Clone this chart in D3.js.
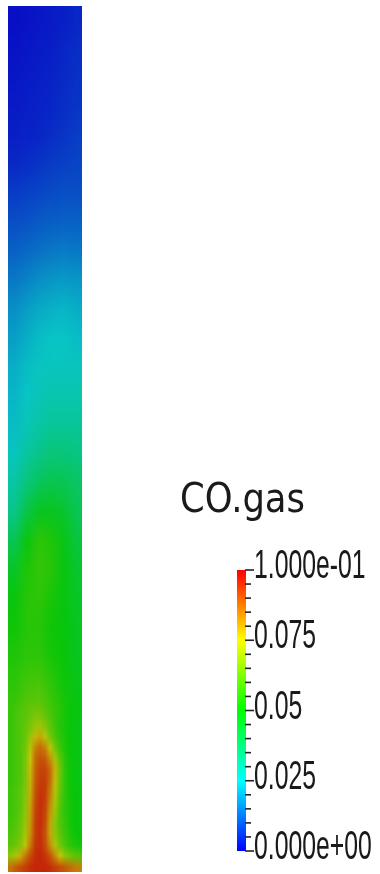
<!DOCTYPE html>
<html>
<head>
<meta charset="utf-8">
<script src="https://cdn.jsdelivr.net/npm/d3@7"></script>
<style>
  body { margin: 0; background: #fff; }
  #wrap { position: relative; width: 380px; height: 874px; }
  #wrap canvas, #wrap svg { position: absolute; left: 0; top: 0; }
</style>
</head>
<body>
<div id="wrap">
  <canvas id="field" width="380" height="874"></canvas>
  <svg id="chart" width="380" height="874"></svg>
</div>
<script>
// ---- data -------------------------------------------------------------
const fieldName = "CO.gas";
const valueRange = [0, 0.1];
const majorTicks = [0, 0.025, 0.05, 0.075, 0.1];
const tickLabels = ["0.000e+00", "0.025", "0.05", "0.075", "1.000e-01"];
const minorStep = 0.005;

// coarse sampling of the whole column, rows top -> bottom, 6 cells across
const coarseRows = [
  [0.0010, 0.0015, 0.0020, 0.0025, 0.0030, 0.0040],
  [0.0015, 0.0020, 0.0025, 0.0030, 0.0040, 0.0050],
  [0.0020, 0.0025, 0.0030, 0.0035, 0.0045, 0.0055],
  [0.0025, 0.0030, 0.0035, 0.0040, 0.0050, 0.0060],
  [0.0030, 0.0035, 0.0040, 0.0050, 0.0060, 0.0070],
  [0.0045, 0.0050, 0.0060, 0.0070, 0.0075, 0.0080],
  [0.0070, 0.0075, 0.0085, 0.0090, 0.0095, 0.0095],
  [0.0095, 0.0100, 0.0110, 0.0115, 0.0120, 0.0120],
  [0.0120, 0.0130, 0.0140, 0.0150, 0.0155, 0.0150],
  [0.0150, 0.0165, 0.0180, 0.0190, 0.0195, 0.0190],
  [0.0180, 0.0200, 0.0215, 0.0225, 0.0230, 0.0220],
  [0.0200, 0.0220, 0.0240, 0.0250, 0.0250, 0.0240],
  [0.0220, 0.0240, 0.0255, 0.0260, 0.0260, 0.0260],
  [0.0230, 0.0250, 0.0270, 0.0280, 0.0280, 0.0280],
  [0.0240, 0.0270, 0.0290, 0.0310, 0.0310, 0.0310],
  [0.0260, 0.0300, 0.0330, 0.0350, 0.0350, 0.0340],
  [0.0290, 0.0350, 0.0390, 0.0410, 0.0400, 0.0380],
  [0.0330, 0.0420, 0.0470, 0.0470, 0.0450, 0.0400],
  [0.0400, 0.0490, 0.0550, 0.0530, 0.0480, 0.0430],
  [0.0460, 0.0530, 0.0560, 0.0540, 0.0490, 0.0450],
  [0.0490, 0.0540, 0.0550, 0.0520, 0.0490, 0.0460],
  [0.0510, 0.0540, 0.0540, 0.0510, 0.0490, 0.0470],
  [0.0530, 0.0550, 0.0550, 0.0520, 0.0500, 0.0470],
  [0.0550, 0.0580, 0.0590, 0.0550, 0.0510, 0.0480],
  [0.0570, 0.0610, 0.0630, 0.0580, 0.0530, 0.0490],
  [0.0570, 0.0630, 0.0690, 0.0660, 0.0550, 0.0490],
  [0.0570, 0.0640, 0.0800, 0.0820, 0.0600, 0.0500],
  [0.0580, 0.0650, 0.0880, 0.0880, 0.0620, 0.0510],
  [0.0600, 0.0670, 0.0900, 0.0880, 0.0640, 0.0530],
  [0.0750, 0.0800, 0.0950, 0.0940, 0.0820, 0.0750]
];

// finer sampling of the inlet zone (height fraction 0 .. fineTop), 15 cells across
const fineTop = 0.2;
const fineRows = [
  [0.056, 0.058, 0.060, 0.061, 0.062, 0.063, 0.062, 0.060, 0.058, 0.056, 0.054, 0.052, 0.050, 0.049, 0.048],
  [0.056, 0.058, 0.060, 0.061, 0.063, 0.065, 0.065, 0.062, 0.059, 0.056, 0.054, 0.052, 0.050, 0.049, 0.048],
  [0.056, 0.058, 0.060, 0.062, 0.065, 0.069, 0.070, 0.066, 0.061, 0.057, 0.054, 0.052, 0.050, 0.049, 0.048],
  [0.056, 0.058, 0.060, 0.063, 0.069, 0.077, 0.079, 0.073, 0.065, 0.059, 0.055, 0.052, 0.050, 0.049, 0.048],
  [0.056, 0.058, 0.060, 0.064, 0.073, 0.084, 0.087, 0.084, 0.074, 0.064, 0.057, 0.053, 0.050, 0.049, 0.048],
  [0.056, 0.058, 0.060, 0.065, 0.075, 0.087, 0.090, 0.089, 0.082, 0.071, 0.061, 0.054, 0.051, 0.049, 0.048],
  [0.056, 0.058, 0.060, 0.065, 0.076, 0.088, 0.092, 0.092, 0.087, 0.077, 0.064, 0.055, 0.051, 0.049, 0.048],
  [0.056, 0.058, 0.060, 0.065, 0.077, 0.089, 0.093, 0.093, 0.087, 0.076, 0.063, 0.055, 0.051, 0.049, 0.048],
  [0.057, 0.059, 0.061, 0.066, 0.078, 0.090, 0.094, 0.093, 0.085, 0.073, 0.062, 0.055, 0.051, 0.050, 0.049],
  [0.057, 0.059, 0.061, 0.067, 0.079, 0.091, 0.095, 0.093, 0.083, 0.071, 0.061, 0.055, 0.052, 0.050, 0.049],
  [0.057, 0.059, 0.062, 0.068, 0.080, 0.092, 0.095, 0.092, 0.081, 0.069, 0.060, 0.055, 0.052, 0.050, 0.049],
  [0.058, 0.060, 0.063, 0.069, 0.081, 0.093, 0.095, 0.091, 0.079, 0.067, 0.060, 0.056, 0.052, 0.050, 0.049],
  [0.059, 0.061, 0.064, 0.071, 0.082, 0.093, 0.095, 0.090, 0.079, 0.068, 0.061, 0.057, 0.053, 0.051, 0.050],
  [0.061, 0.063, 0.067, 0.074, 0.085, 0.094, 0.095, 0.091, 0.082, 0.072, 0.064, 0.059, 0.055, 0.053, 0.052],
  [0.068, 0.072, 0.078, 0.085, 0.091, 0.095, 0.096, 0.094, 0.090, 0.083, 0.075, 0.068, 0.064, 0.061, 0.060],
  [0.086, 0.089, 0.091, 0.093, 0.095, 0.096, 0.096, 0.096, 0.095, 0.093, 0.091, 0.089, 0.087, 0.085, 0.084]
];

// ---- scales -----------------------------------------------------------
const x = d3.scaleLinear([0, 1], [8, 82]);      // across the column
const y = d3.scaleLinear([0, 1], [872, 6]);     // height fraction
const color = d3.scaleSequential(valueRange, d3.interpolateHslLong("blue", "red"));
const shade = 0.74, lift = 8;                   // surface looks a bit darker than the bar

// paint a grid of samples as a small image, then stretch it (bilinear) over its area
function gridImage(rows) {
  const nr = rows.length, nc = rows[0].length;
  const off = document.createElement("canvas");
  off.width = nc; off.height = nr;
  const octx = off.getContext("2d");
  const img = octx.createImageData(nc, nr);
  rows.forEach((row, i) => row.forEach((v, j) => {
    const c = d3.rgb(color(v));
    const k = (i * nc + j) * 4;
    img.data[k] = c.r * shade + lift;
    img.data[k + 1] = c.g * shade + lift;
    img.data[k + 2] = c.b * shade + lift;
    img.data[k + 3] = 255;
  }));
  octx.putImageData(img, 0, 0);
  return off;
}

const ctx = document.getElementById("field").getContext("2d");
ctx.imageSmoothingEnabled = true;
ctx.drawImage(gridImage(coarseRows), x(0), y(1), x(1) - x(0), y(0) - y(1));

// fine grid on a layer, faded in at its top edge so there is no seam
const layer = document.createElement("canvas");
layer.width = 380; layer.height = 874;
const lctx = layer.getContext("2d");
lctx.imageSmoothingEnabled = true;
lctx.drawImage(gridImage(fineRows), x(0), y(fineTop), x(1) - x(0), y(0) - y(fineTop));
const fade = lctx.createLinearGradient(0, y(fineTop), 0, y(fineTop) + 14);
fade.addColorStop(0, "rgba(0,0,0,0)");
fade.addColorStop(1, "rgba(0,0,0,1)");
lctx.globalCompositeOperation = "destination-in";
lctx.fillStyle = fade;
lctx.fillRect(0, 0, 380, 874);
ctx.drawImage(layer, 0, 0);

// ---- colour legend ----------------------------------------------------
const svg = d3.select("#chart");
const barX = 237, barW = 9;
const barY = d3.scaleLinear(valueRange, [851, 570]);

const grad = svg.append("defs").append("linearGradient")
  .attr("id", "bar").attr("x1", 0).attr("y1", 1).attr("x2", 0).attr("y2", 0);
grad.selectAll("stop")
  .data(d3.range(0, 21).map(i => i / 20))
  .enter().append("stop")
  .attr("offset", d => d)
  .attr("stop-color", d => color(valueRange[0] + d * (valueRange[1] - valueRange[0])));

svg.append("rect")
  .attr("x", barX).attr("y", barY(valueRange[1]))
  .attr("width", barW).attr("height", barY(valueRange[0]) - barY(valueRange[1]))
  .attr("fill", "url(#bar)");

const minor = d3.range(0, 20 + 1).map(i => i * minorStep);
svg.selectAll(".tick")
  .data(minor)
  .enter().append("line")
  .attr("class", "tick")
  .attr("x1", barX + barW - 1)
  .attr("x2", d => majorTicks.some(m => Math.abs(m - d) < 1e-9) ? barX + barW + 8 : barX + barW + 5)
  .attr("y1", d => barY(d)).attr("y2", d => barY(d))
  .attr("stroke", "#222").attr("stroke-width", 1.6);

svg.selectAll(".lab")
  .data(majorTicks)
  .enter().append("text")
  .attr("class", "lab")
  .attr("transform", d => "translate(254," + (barY(d) + 8) + ") scale(0.62,1)")
  .attr("font-family", "Liberation Sans, Arial, sans-serif")
  .attr("font-size", 40)
  .attr("fill", "#1a1a1a")
  .text((d, i) => tickLabels[i]);

svg.append("text")
  .attr("x", 180).attr("y", 512)
  .attr("font-family", "DejaVu Sans, sans-serif")
  .attr("font-size", 40)
  .attr("textLength", 125).attr("lengthAdjust", "spacingAndGlyphs")
  .attr("fill", "#1a1a1a")
  .text(fieldName);
</script>
</body>
</html>
